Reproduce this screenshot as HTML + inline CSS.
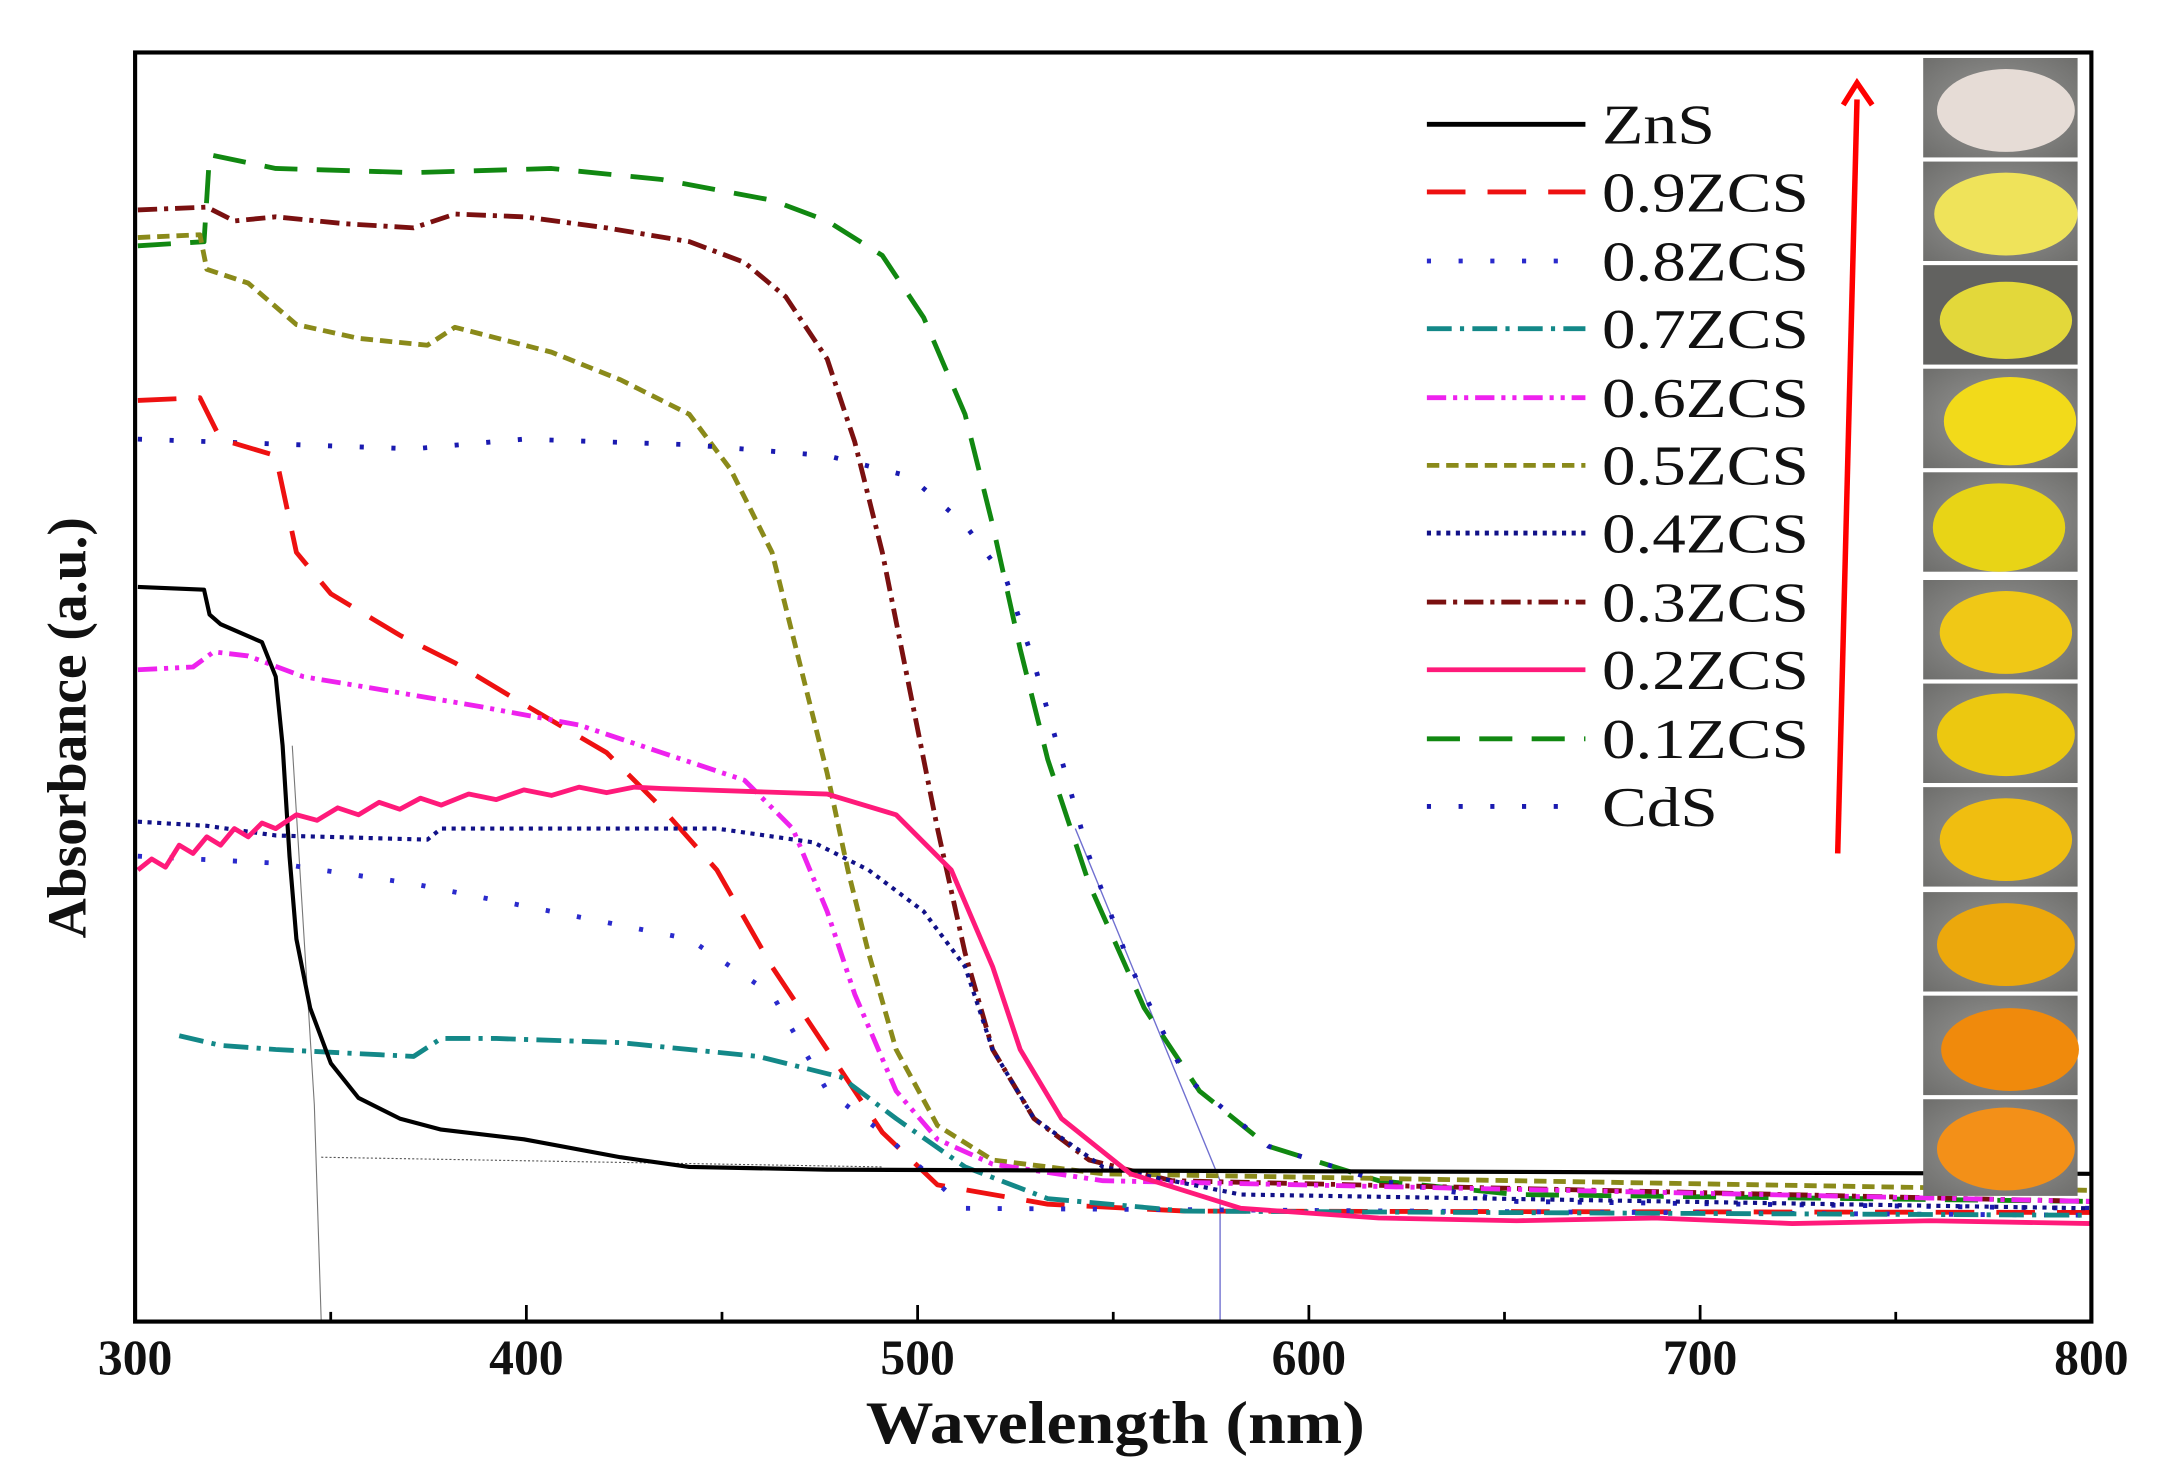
<!DOCTYPE html>
<html><head><meta charset="utf-8"><style>html,body{margin:0;padding:0;background:#fff}svg{display:block}</style></head>
<body>
<svg width="2161" height="1479" viewBox="0 0 1567.5 1071" preserveAspectRatio="none" xmlns="http://www.w3.org/2000/svg">
<rect width="1567.5" height="1071" fill="#fff"/>
<defs>
<radialGradient id="bg" cx="50%" cy="50%" r="70%"><stop offset="0" stop-color="#9a9a98"/><stop offset="1" stop-color="#6e6e6c"/></radialGradient>
</defs>
<g fill="none" stroke-linejoin="round" stroke-linecap="butt">
<polyline points="212,540 228,800 233,957" stroke="#777" stroke-width="0.8"/>
<polyline points="233,838 640,845" stroke="#555" stroke-width="0.8" stroke-dasharray="1.5,1.5"/>
<polyline points="780,600 885,855 885,957" stroke="#7070d0" stroke-width="1"/>
<polyline points="100,178 148,175 152,112 200,122 300,125 400,122 480,130 560,145 600,160 640,185 670,230 700,300 720,380 740,470 760,550 790,640 830,730 870,790 920,830 1000,855 1100,865 1517,870" stroke="#118811" stroke-width="3.5" stroke-dasharray="24,14"/>
<polyline points="100,152 150,150 170,160 200,157 250,162 300,165 330,155 380,157 440,165 500,175 540,190 570,215 600,260 620,320 640,400 660,500 680,600 700,690 720,760 750,810 790,840 850,855 1517,870" stroke="#7a1010" stroke-width="3.5" stroke-dasharray="14,5,3,5"/>
<polyline points="100,172 145,170 150,195 180,205 215,235 260,245 310,250 330,237 400,255 450,275 500,300 530,340 560,400 580,480 600,560 615,630 630,690 650,760 680,815 720,840 800,850 1517,862" stroke="#8a8a1a" stroke-width="3.5" stroke-dasharray="9,5"/>
<polyline points="100,318 300,325 380,318 500,322 600,330 660,345 700,380 730,420 750,480 770,550 790,620 820,700 860,780 920,830 1000,855 1100,870 1517,875" stroke="#1a1ab0" stroke-width="3.5" stroke-dasharray="3,20"/>
<polyline points="100,290 145,288 160,318 200,330 215,400 240,430 290,460 330,480 380,510 440,545 480,585 520,630 560,700 600,760 640,820 680,858 760,872 860,877 1517,878" stroke="#ee1111" stroke-width="3.5" stroke-dasharray="28,16"/>
<polyline points="100,485 140,483 155,472 180,475 220,490 280,500 350,512 420,525 480,545 540,565 575,600 600,660 620,720 650,790 680,825 720,843 800,855 1517,870" stroke="#ee22ee" stroke-width="3.5" stroke-dasharray="14,5,3,5,3,5"/>
<polyline points="100,595 150,598 200,605 310,608 320,600 420,600 520,600 590,610 630,630 670,660 700,700 720,760 750,810 800,845 900,865 1517,875" stroke="#111188" stroke-width="3" stroke-dasharray="3,4"/>
<polyline points="100,620 200,625 300,640 400,660 500,680 560,720 600,790 640,820 700,875 1517,880" stroke="#2a2acc" stroke-width="3.5" stroke-dasharray="3,20"/>
<polyline points="130,750 160,757 200,760 300,765 320,752 360,752 450,755 550,765 610,780 650,810 700,845 760,868 860,877 1517,880" stroke="#138888" stroke-width="3.5" stroke-dasharray="18,6,3,6"/>
<polyline points="100,425 148,427 152,445 160,452 190,465 200,490 205,540 210,620 215,680 225,730 240,770 260,795 290,810 320,818 380,825 450,838 500,845 600,847 1517,850" stroke="#000" stroke-width="3"/>
<polyline points="100,630 110,622 120,628 130,612 140,618 150,606 160,612 170,600 180,606 190,596 200,600 215,590 230,594 245,585 260,590 275,581 290,586 305,578 320,583 340,575 360,579 380,572 400,576 420,570 440,574 460,570 480,571 600,575 650,590 690,630 720,700 740,760 770,810 820,850 900,875 1000,882 1100,884 1200,882 1300,886 1400,884 1517,886" stroke="#ff1a7a" stroke-width="3.5"/>
</g>
<rect x="98" y="38" width="1419" height="919" fill="none" stroke="#000" stroke-width="3"/>
<g stroke="#000" stroke-width="2">
<line x1="381.8" y1="957" x2="381.8" y2="945"/><line x1="665.6" y1="957" x2="665.6" y2="945"/><line x1="949.4" y1="957" x2="949.4" y2="945"/><line x1="1233.2" y1="957" x2="1233.2" y2="945"/>
<line x1="239.9" y1="957" x2="239.9" y2="950"/><line x1="523.7" y1="957" x2="523.7" y2="950"/><line x1="807.5" y1="957" x2="807.5" y2="950"/><line x1="1091.3" y1="957" x2="1091.3" y2="950"/><line x1="1375.1" y1="957" x2="1375.1" y2="950"/>
</g>
<g font-family="Liberation Serif, serif" font-weight="bold" font-size="36" text-anchor="middle" fill="#111">
<text x="98" y="995">300</text><text x="381.8" y="995">400</text><text x="665.6" y="995">500</text><text x="949.4" y="995">600</text><text x="1233.2" y="995">700</text><text x="1517" y="995">800</text>
<text x="809" y="1045" font-size="44" textLength="362" lengthAdjust="spacingAndGlyphs">Wavelength (nm)</text>
<text transform="translate(62,527) rotate(-90)" font-size="40" textLength="305" lengthAdjust="spacingAndGlyphs">Absorbance (a.u.)</text>
</g>
<g stroke-width="3.5" fill="none">
<line x1="1035" y1="90" x2="1150" y2="90" stroke="#000"/>
<line x1="1035" y1="139" x2="1150" y2="139" stroke="#ee1111" stroke-dasharray="28,16"/>
<line x1="1035" y1="189" x2="1150" y2="189" stroke="#2a2acc" stroke-dasharray="3,20"/>
<line x1="1035" y1="238" x2="1150" y2="238" stroke="#138888" stroke-dasharray="18,6,3,6"/>
<line x1="1035" y1="288" x2="1150" y2="288" stroke="#ee22ee" stroke-dasharray="14,5,3,5,3,5"/>
<line x1="1035" y1="337" x2="1150" y2="337" stroke="#8a8a1a" stroke-dasharray="9,5"/>
<line x1="1035" y1="386" x2="1150" y2="386" stroke="#111188" stroke-dasharray="3,4"/>
<line x1="1035" y1="436" x2="1150" y2="436" stroke="#7a1010" stroke-dasharray="14,5,3,5"/>
<line x1="1035" y1="485" x2="1150" y2="485" stroke="#ff1a7a"/>
<line x1="1035" y1="535" x2="1150" y2="535" stroke="#118811" stroke-dasharray="24,14"/>
<line x1="1035" y1="584" x2="1150" y2="584" stroke="#1a1ab0" stroke-dasharray="3,20"/>
</g>
<g font-family="Liberation Serif, serif" font-size="41" fill="#111">
<text x="1162" y="104" textLength="82" lengthAdjust="spacingAndGlyphs">ZnS</text>
<text x="1162" y="153" textLength="150" lengthAdjust="spacingAndGlyphs">0.9ZCS</text>
<text x="1162" y="203" textLength="150" lengthAdjust="spacingAndGlyphs">0.8ZCS</text>
<text x="1162" y="252" textLength="150" lengthAdjust="spacingAndGlyphs">0.7ZCS</text>
<text x="1162" y="302" textLength="150" lengthAdjust="spacingAndGlyphs">0.6ZCS</text>
<text x="1162" y="351" textLength="150" lengthAdjust="spacingAndGlyphs">0.5ZCS</text>
<text x="1162" y="400" textLength="150" lengthAdjust="spacingAndGlyphs">0.4ZCS</text>
<text x="1162" y="450" textLength="150" lengthAdjust="spacingAndGlyphs">0.3ZCS</text>
<text x="1162" y="499" textLength="150" lengthAdjust="spacingAndGlyphs">0.2ZCS</text>
<text x="1162" y="549" textLength="150" lengthAdjust="spacingAndGlyphs">0.1ZCS</text>
<text x="1162" y="598" textLength="84" lengthAdjust="spacingAndGlyphs">CdS</text>
</g>
<line x1="1333" y1="618" x2="1347" y2="72" stroke="#ff0000" stroke-width="4"/>
<polyline points="1337,76 1347,60 1358,76" fill="none" stroke="#ff0000" stroke-width="4"/>
<g>
<rect x="1395" y="42" width="112" height="72" fill="url(#bg)"/><ellipse cx="1455" cy="80" rx="50" ry="30" fill="#e6dcd6"/>
<rect x="1395" y="117" width="112" height="72" fill="url(#bg)"/><ellipse cx="1455" cy="155" rx="52" ry="30" fill="#efe35a"/>
<rect x="1395" y="192" width="112" height="72" fill="#626260"/><ellipse cx="1455" cy="232" rx="48" ry="28" fill="#e3d83a"/>
<rect x="1395" y="267" width="112" height="72" fill="url(#bg)"/><ellipse cx="1458" cy="305" rx="48" ry="32" fill="#f2da1a"/>
<rect x="1395" y="342" width="112" height="72" fill="url(#bg)"/><ellipse cx="1450" cy="382" rx="48" ry="32" fill="#e8d416"/>
<rect x="1395" y="420" width="112" height="72" fill="url(#bg)"/><ellipse cx="1455" cy="458" rx="48" ry="30" fill="#f0c816"/>
<rect x="1395" y="495" width="112" height="72" fill="url(#bg)"/><ellipse cx="1455" cy="532" rx="50" ry="30" fill="#ecc810"/>
<rect x="1395" y="570" width="112" height="72" fill="url(#bg)"/><ellipse cx="1455" cy="608" rx="48" ry="30" fill="#f0be10"/>
<rect x="1395" y="646" width="112" height="72" fill="url(#bg)"/><ellipse cx="1455" cy="684" rx="50" ry="30" fill="#eca80c"/>
<rect x="1395" y="721" width="112" height="72" fill="url(#bg)"/><ellipse cx="1458" cy="760" rx="50" ry="30" fill="#f08a0c"/>
<rect x="1395" y="796" width="112" height="70" fill="url(#bg)"/><ellipse cx="1455" cy="832" rx="50" ry="30" fill="#f39018"/>
</g>
</svg>
</body></html>
